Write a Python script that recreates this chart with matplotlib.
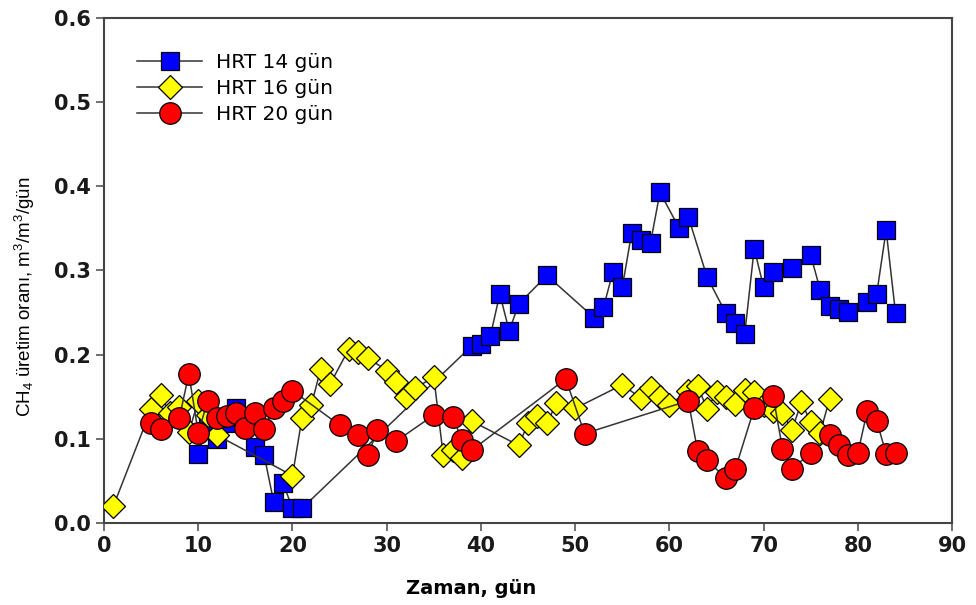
import numpy as np
import matplotlib.pyplot as plt

plt.rcParams['font.family'] = ['DejaVu Sans']
plt.rcParams['mathtext.default'] = 'regular'

# HRT 14 gun
days_14 = [10, 11, 12, 13, 14, 16, 17, 18, 19, 20, 21, 39, 40, 41, 42, 43, 44, 47,
           52, 53, 54, 55, 56, 57, 58, 59, 61, 62, 64, 66, 67, 68, 69, 70, 71, 73,
           75, 76, 77, 78, 79, 81, 82, 83, 84]
ch4_14 = [0.082, 0.12, 0.10, 0.118, 0.137, 0.09, 0.08, 0.025, 0.047, 0.017, 0.017,
          0.21, 0.213, 0.222, 0.272, 0.228, 0.26, 0.294, 0.244, 0.256, 0.298, 0.28,
          0.345, 0.336, 0.333, 0.393, 0.351, 0.364, 0.292, 0.249, 0.238, 0.225,
          0.326, 0.28, 0.298, 0.303, 0.318, 0.277, 0.258, 0.254, 0.25, 0.262, 0.272,
          0.348, 0.249]

# HRT 16 gun
days_16 = [1, 5, 6, 7, 8, 9, 10, 11, 12, 20, 21, 22, 23, 24, 26, 27, 28, 30, 31, 32,
           33, 35, 36, 37, 38, 39, 44, 45, 46, 47, 48, 50, 55, 57, 58, 59, 60, 62, 63,
           64, 65, 66, 67, 68, 69, 70, 71, 72, 73, 74, 75, 76, 77]
ch4_16 = [0.02, 0.135, 0.152, 0.13, 0.138, 0.108, 0.145, 0.128, 0.104, 0.056, 0.124,
          0.14, 0.183, 0.165, 0.207, 0.203, 0.196, 0.181, 0.167, 0.15, 0.16, 0.173,
          0.08, 0.086, 0.077, 0.121, 0.092, 0.118, 0.127, 0.118, 0.142, 0.136, 0.164,
          0.148, 0.16, 0.15, 0.14, 0.157, 0.163, 0.135, 0.155, 0.15, 0.141, 0.158,
          0.156, 0.14, 0.133, 0.131, 0.11, 0.143, 0.12, 0.107, 0.147]

# HRT 20 gun
days_20 = [5, 6, 8, 9, 10, 11, 12, 13, 14, 15, 16, 17, 18, 19, 20, 25, 27, 28, 29, 31,
           35, 37, 38, 39, 49, 51, 62, 63, 64, 66, 67, 69, 71, 72, 73, 75, 77, 78, 79,
           80, 81, 82, 83, 84]
ch4_20 = [0.118, 0.112, 0.125, 0.177, 0.107, 0.145, 0.125, 0.127, 0.13, 0.113, 0.131,
          0.112, 0.137, 0.145, 0.157, 0.116, 0.104, 0.08, 0.11, 0.097, 0.128, 0.126,
          0.098, 0.086, 0.171, 0.106, 0.145, 0.085, 0.074, 0.053, 0.064, 0.136, 0.151,
          0.088, 0.064, 0.083, 0.104, 0.092, 0.08, 0.083, 0.133, 0.121, 0.082, 0.083]

fig = plt.figure(figsize=(9.76, 6.05), dpi=100)
ax = fig.add_axes([0.1066, 0.136, 0.8689, 0.834])

line_kw = dict(color='#333333', lw=1.1, markeredgecolor='black', markeredgewidth=0.9)
ax.plot(days_14, ch4_14, marker='s', ms=13.5, markerfacecolor='#0000ff',
        label='HRT 14 gün', zorder=3, **line_kw)
ax.plot(days_16, ch4_16, marker='D', ms=12, markerfacecolor='#ffff00',
        label='HRT 16 gün', zorder=4, **line_kw)
ax.plot(days_20, ch4_20, marker='o', ms=15.5, markerfacecolor='#ff0000',
        label='HRT 20 gün', zorder=5, **line_kw)

ax.set_xlim(0, 90)
ax.set_ylim(0, 0.6)
ax.set_xticks(np.arange(0, 91, 10))
ax.set_yticks(np.arange(0, 0.61, 0.1))
ax.yaxis.set_major_formatter(plt.FormatStrFormatter('%.1f'))
ax.tick_params(direction='out', length=6, width=1.2, colors='#555555',
               labelcolor='#1a1a1a', labelsize=15)
for lab in ax.get_xticklabels() + ax.get_yticklabels():
    lab.set_fontweight('bold')
for sp in ax.spines.values():
    sp.set_color('#444444')
    sp.set_linewidth(1.5)

ax.set_xlabel('Zaman, gün', fontsize=14, fontweight='bold')
ax.xaxis.set_label_coords(0.433, -0.112)
ax.set_ylabel('CH$_4$ üretim oranı, m$^3$/m$^3$/gün', fontsize=13.5,
              family=['Liberation Sans', 'DejaVu Sans'])
ax.yaxis.set_label_coords(-0.079, 0.448)

ax.legend(loc='upper left', bbox_to_anchor=(0.025, 0.955), frameon=False,
          fontsize=14.5, handlelength=3.2, handletextpad=0.7, labelspacing=0.35,
          borderaxespad=0.2)

fig.savefig('out.png', dpi=100)
